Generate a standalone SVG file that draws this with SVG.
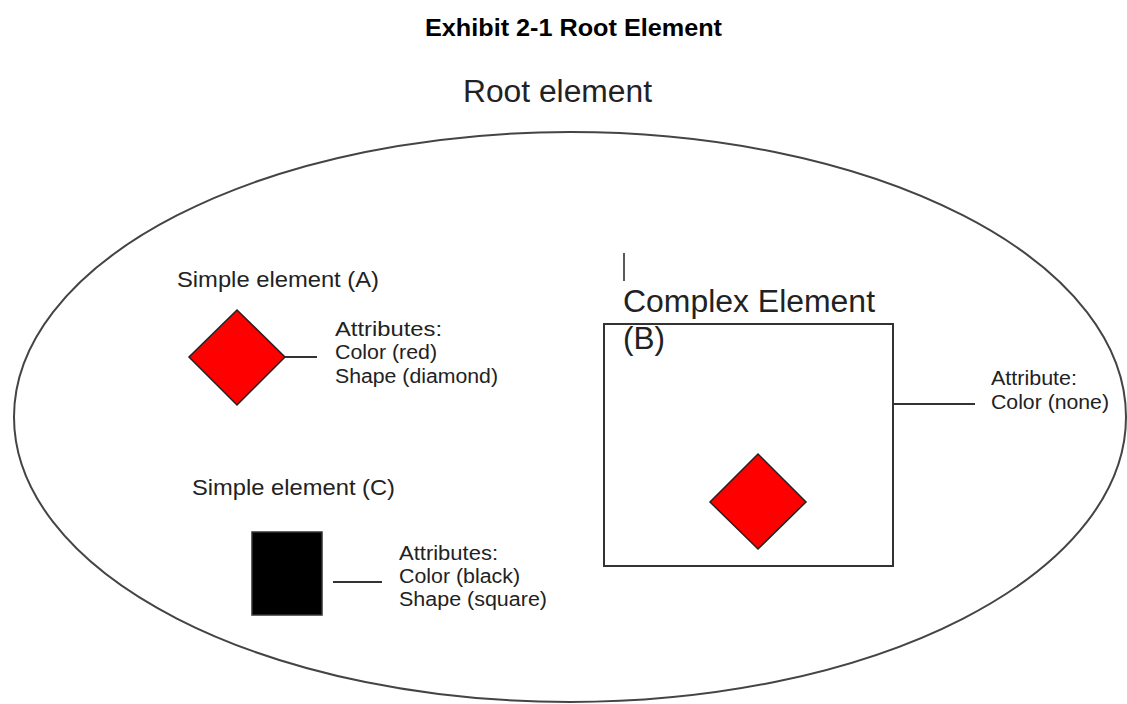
<svg xmlns="http://www.w3.org/2000/svg" width="1127" height="704" viewBox="0 0 1127 704">
<style>
.t{font-family:"Liberation Sans",Arial,sans-serif;fill:#222}
.title{font-family:"Liberation Sans",Arial,sans-serif;font-weight:bold;font-size:24px;fill:#000}
.lbl{font-size:22px}
.attr{font-size:20px}
.big{font-size:31px}
.ln{stroke:#333;stroke-width:2;fill:none}
.dia{fill:#f00;stroke:#222;stroke-width:1.5}
</style>
<rect width="1127" height="704" fill="#fff"/>
<text class="title" x="425" y="36" textLength="297" lengthAdjust="spacingAndGlyphs">Exhibit 2-1 Root Element</text>
<g id="root">
<ellipse cx="570" cy="417" rx="556" ry="285" fill="none" stroke="#444" stroke-width="2"/>
<text class="t big" x="463" y="102" textLength="189" lengthAdjust="spacingAndGlyphs">Root element</text>
</g>
<g id="simpleA">
<text class="t lbl" x="177" y="287" textLength="202" lengthAdjust="spacingAndGlyphs">Simple element (A)</text>
<polygon class="dia" points="237,310 285,357 237,405 189,357"/>
<text class="t attr" x="335" y="336" textLength="107" lengthAdjust="spacingAndGlyphs">Attributes:</text>
<text class="t attr" x="335" y="359" textLength="102" lengthAdjust="spacingAndGlyphs">Color (red)</text>
<text class="t attr" x="335" y="383" textLength="163" lengthAdjust="spacingAndGlyphs">Shape (diamond)</text>
</g>
<g id="complexB">
<line x1="624" y1="253" x2="624" y2="281" stroke="#222" stroke-width="1.5"/>
<text class="t big" x="623" y="312" textLength="252" lengthAdjust="spacingAndGlyphs">Complex Element</text>
<rect x="604" y="324" width="289" height="242" class="ln"/>
<text class="t big" x="623" y="349" textLength="42" lengthAdjust="spacingAndGlyphs">(B)</text>
<polygon class="dia" points="758,454 806,502 758,549 710,502"/>
<text class="t attr" x="991" y="385" textLength="86" lengthAdjust="spacingAndGlyphs">Attribute:</text>
<text class="t attr" x="991" y="409" textLength="118" lengthAdjust="spacingAndGlyphs">Color (none)</text>
</g>
<g id="simpleC">
<text class="t lbl" x="192" y="495" textLength="203" lengthAdjust="spacingAndGlyphs">Simple element (C)</text>
<rect x="252" y="532" width="70" height="83" fill="#000" stroke="#333" stroke-width="1.5"/>
<text class="t attr" x="399" y="560" textLength="99" lengthAdjust="spacingAndGlyphs">Attributes:</text>
<text class="t attr" x="399" y="583" textLength="121" lengthAdjust="spacingAndGlyphs">Color (black)</text>
<text class="t attr" x="399" y="606" textLength="148" lengthAdjust="spacingAndGlyphs">Shape (square)</text>
</g>
<g id="connectors">
<line class="ln" x1="285" y1="357" x2="317" y2="357"/>
<line class="ln" x1="893" y1="404" x2="975" y2="404"/>
<line class="ln" x1="333" y1="582" x2="382" y2="582"/>
</g>
</svg>
